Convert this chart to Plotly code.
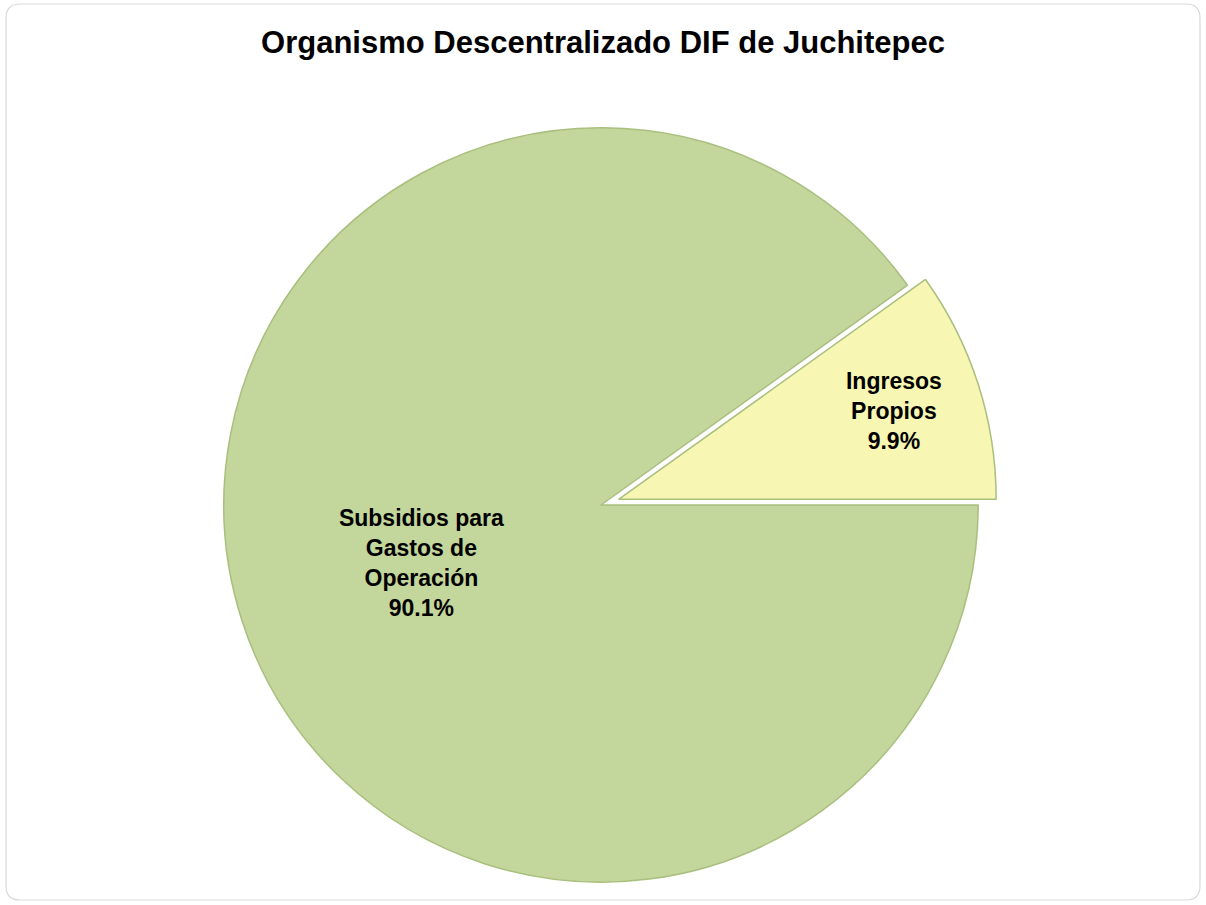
import plotly.graph_objects as go

categories = ["Ingresos<br>Propios", "Subsidios para<br>Gastos de<br>Operación"]
values = [9.9, 90.1]
colors = ["#F7F7B3", "#C3D69B"]
pulls = [0.05, 0.0]

# first slice runs from its start angle clockwise to 3 o'clock
first_share = values[0] / sum(values)
rotation = 90 - 360 * first_share

fig = go.Figure()
fig.add_trace(go.Pie(
    labels=categories,
    values=values,
    sort=False,
    direction="clockwise",
    rotation=rotation,
    pull=pulls,
    marker=dict(colors=colors, line=dict(color="#A9BF7E", width=1.5)),
    texttemplate="<b>%{label}<br>%{percent:.1%}</b>",
    textposition="inside",
    insidetextorientation="horizontal",
    textfont=dict(family="Liberation Sans, Arial", size=23, color="black"),
    hoverinfo="label+percent",
    showlegend=False,
    domain=dict(x=[0.1685, 0.8282], y=[0.0044, 0.8796]),
))

W, H = 1206.0, 905.0
def px(x, y):
    return f"{x / W:.5f},{1 - y / H:.5f}"
x0, y0, x1, y1, r = 6, 4, 1200, 900, 14
path = (f"M {px(x0, y0 + r)} Q {px(x0, y0)} {px(x0 + r, y0)} "
        f"L {px(x1 - r, y0)} Q {px(x1, y0)} {px(x1, y0 + r)} "
        f"L {px(x1, y1 - r)} Q {px(x1, y1)} {px(x1 - r, y1)} "
        f"L {px(x0 + r, y1)} Q {px(x0, y1)} {px(x0, y1 - r)} Z")

fig.update_layout(
    width=1206, height=905,
    margin=dict(l=0, r=0, t=0, b=0),
    paper_bgcolor="white",
    plot_bgcolor="white",
    uniformtext=dict(minsize=23, mode="show"),
    title=dict(
        text="<b>Organismo Descentralizado DIF de Juchitepec</b>",
        x=0.5, xanchor="center", y=1 - 42 / H, yanchor="middle",
        font=dict(family="Liberation Sans, Arial", size=31, color="black"),
    ),
    shapes=[dict(type="path", xref="paper", yref="paper", path=path,
                 line=dict(color="#D9D9D9", width=1.2),
                 fillcolor="rgba(0,0,0,0)", layer="below")],
)

fig.write_html("out.html", config={"displayModeBar": False},
               post_script="document.body.style.margin='0';")
